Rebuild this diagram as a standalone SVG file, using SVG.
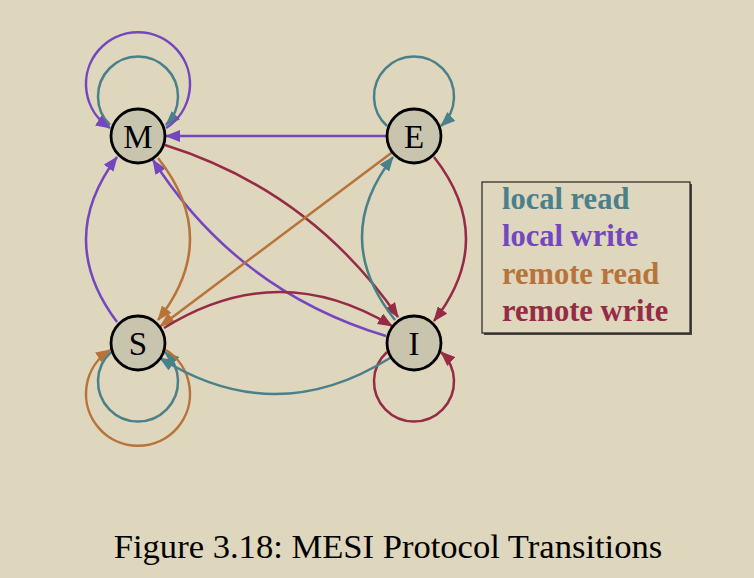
<svg xmlns="http://www.w3.org/2000/svg" width="754" height="578" viewBox="0 0 754 578">
<defs>
<style>
.bg{fill:#ded6bd}
.node circle{fill:#c9c4ae;stroke:#000;stroke-width:2.8}
.node text{font-family:"Liberation Serif","Times New Roman",serif;font-size:33px;text-anchor:middle;fill:#000}
.e{fill:none;stroke-width:2.5}
.lr{stroke:#4a8089}
.lw{stroke:#7547bf}
.rr{stroke:#b8733a}
.rw{stroke:#952b45}
.leg{font-family:"Liberation Serif","Times New Roman",serif;font-size:30.5px;font-weight:bold}
.cap{font-family:"Liberation Serif","Times New Roman",serif;font-size:34.6px;text-anchor:middle;fill:#000}
</style>
<marker id="aLR" markerUnits="userSpaceOnUse" markerWidth="15" markerHeight="12" refX="14" refY="6" orient="auto"><path d="M0,0 L15,6 L0,12 z" fill="#4a8089"/></marker>
<marker id="aLW" markerUnits="userSpaceOnUse" markerWidth="15" markerHeight="12" refX="14" refY="6" orient="auto"><path d="M0,0 L15,6 L0,12 z" fill="#7547bf"/></marker>
<marker id="aRR" markerUnits="userSpaceOnUse" markerWidth="15" markerHeight="12" refX="14" refY="6" orient="auto"><path d="M0,0 L15,6 L0,12 z" fill="#b8733a"/></marker>
<marker id="aRW" markerUnits="userSpaceOnUse" markerWidth="15" markerHeight="12" refX="14" refY="6" orient="auto"><path d="M0,0 L15,6 L0,12 z" fill="#952b45"/></marker>
</defs>
<rect class="bg" x="0" y="0" width="754" height="578"/>
<g id="connectors">
<path class="e lr" d="M110,125 A40,40 0 1,1 166,125" marker-end="url(#aLR)"/>
<path class="e lw" d="M166,128 A52,52 0 1,0 110,128" marker-end="url(#aLW)"/>
<path class="e lr" d="M387,126 A40,40 0 1,1 441,126" marker-end="url(#aLR)"/>
<path class="e lr" d="M111,352 A40,40 0 1,0 165,352" marker-end="url(#aLR)"/>
<path class="e rr" d="M166,350 A52,52 0 1,1 110,350" marker-end="url(#aRR)"/>
<path class="e rw" d="M387,352 A40,40 0 1,0 441,352" marker-end="url(#aRW)"/>
<path class="e lw" d="M386,136 L166,136" marker-end="url(#aLW)"/>
<path class="e rw" d="M165,145 Q311,191 398,317" marker-end="url(#aRW)"/>
<path class="e lw" d="M386,336 Q237,291 153,160" marker-end="url(#aLW)"/>
<path class="e rr" d="M391.6,152.8 L160.4,326.2" marker-end="url(#aRR)"/>
<path class="e rr" d="M158,158 Q222,239 158,320" marker-end="url(#aRR)"/>
<path class="e lw" d="M117,322 Q55,239.5 117,157" marker-end="url(#aLW)"/>
<path class="e rw" d="M164,328 Q278,257 392,326" marker-end="url(#aRW)"/>
<path class="e rw" d="M434,157 Q498,239 434,321" marker-end="url(#aRW)"/>
<path class="e lr" d="M395,320 Q330,238 393,157" marker-end="url(#aLR)"/>
<path class="e lr" d="M390,358 Q275,430 160,358" marker-end="url(#aLR)"/>
</g>
<g id="node-M" class="node"><circle cx="138" cy="136" r="27"/><text x="138" y="147.5">M</text></g>
<g id="node-E" class="node"><circle cx="414" cy="136" r="27"/><text x="414" y="147.5">E</text></g>
<g id="node-S" class="node"><circle cx="138" cy="343" r="27"/><text x="138" y="354.5">S</text></g>
<g id="node-I" class="node"><circle cx="414" cy="343" r="27"/><text x="414" y="354.5">I</text></g>
<g id="legend">
<path d="M484,334 L691,334 L691,184" fill="none" stroke="#4a4640" stroke-width="2"/>
<rect x="482" y="182" width="208" height="151" fill="none" stroke="#222" stroke-width="1.2"/>
<text class="leg" x="502" y="209" fill="#4a8089">local read</text>
<text class="leg" x="502" y="246" fill="#7547bf">local write</text>
<text class="leg" x="502" y="284" fill="#b8733a">remote read</text>
<text class="leg" x="502" y="321" fill="#952b45">remote write</text>
</g>
<text class="cap" x="388" y="558">Figure 3.18: MESI Protocol Transitions</text>
</svg>
